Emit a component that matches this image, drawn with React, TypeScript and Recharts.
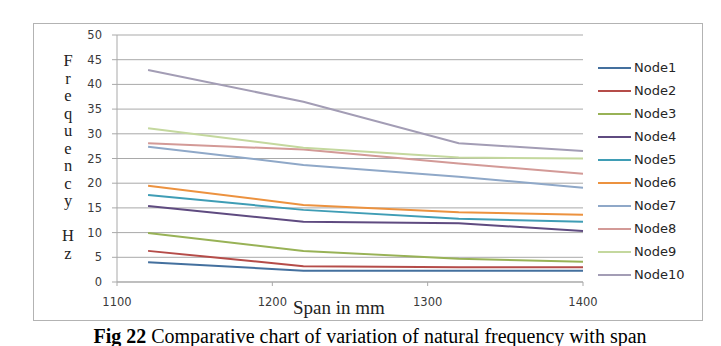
import { CartesianGrid, Line, LineChart, XAxis, YAxis } from "recharts";

// span values (mm) where each node frequency was computed
const spans = [1120, 1220, 1320, 1400];

// natural frequency (Hz) per node
const node1 = [4.0, 2.3, 2.3, 2.3];
const node2 = [6.3, 3.2, 3.0, 3.0];
const node3 = [9.9, 6.3, 4.7, 4.1];
const node4 = [15.4, 12.2, 11.9, 10.3];
const node5 = [17.6, 14.6, 12.8, 12.2];
const node6 = [19.5, 15.6, 14.1, 13.6];
const node7 = [27.4, 23.7, 21.3, 19.1];
const node8 = [28.1, 26.8, 24.0, 21.9];
const node9 = [31.1, 27.2, 25.2, 25.0];
const node10 = [42.9, 36.5, 28.1, 26.5];

const seriesNames = [
  "Node1",
  "Node2",
  "Node3",
  "Node4",
  "Node5",
  "Node6",
  "Node7",
  "Node8",
  "Node9",
  "Node10",
];
const seriesValues = [node1, node2, node3, node4, node5, node6, node7, node8, node9, node10];

const xTicks = [1100, 1200, 1300, 1400];
const yTicks = [0, 5, 10, 15, 20, 25, 30, 35, 40, 45, 50];

const COLORS = [
  "#44709e",
  "#b54c49",
  "#98b256",
  "#5f4b80",
  "#3f9db5",
  "#ec923f",
  "#8fa8c8",
  "#d39a97",
  "#c4d89e",
  "#a39db5",
];

const data = spans.map((span, i) => {
  const row: Record<string, number> = { span };
  seriesNames.forEach((name, k) => {
    row[name] = seriesValues[k][i];
  });
  return row;
});

const AXIS_GRAY = "#a9a9a9";
const SANS = "'DejaVu Sans', sans-serif";
const SERIF = "'Liberation Serif', 'Times New Roman', serif";

// vertical y-axis caption, one letter per line
const yLabelLines = ["F", "r", "e", "q", "u", "e", "n", "c", "y", "", "H", "z"];

// legend kept outside the chart so it doesn't shrink the plot area
function NodeLegend() {
  return (
    <div
      style={{
        position: "absolute",
        left: 598,
        top: 56,
        display: "flex",
        flexDirection: "column",
      }}
    >
      {seriesNames.map((name, k) => (
        <div key={name} style={{ display: "flex", alignItems: "center", height: 23 }}>
          <div style={{ width: 33, height: 2, background: COLORS[k], marginRight: 3 }} />
          <span style={{ fontFamily: SANS, fontSize: 13, color: "#262626" }}>{name}</span>
        </div>
      ))}
    </div>
  );
}

export default function App() {
  return (
    <div
      style={{
        position: "absolute",
        left: 0,
        top: 0,
        width: 721,
        height: 346,
        background: "#fff",
        overflow: "hidden",
      }}
    >
      <div
        style={{
          position: "absolute",
          left: 33,
          top: 23,
          width: 668,
          height: 296,
          border: "1px solid #b3b3b3",
        }}
      />
      <LineChart
        width={721}
        height={346}
        data={data}
        margin={{ top: 35, right: 138, bottom: 34, left: 0 }}
        style={{ position: "absolute", left: 0, top: 0 }}
      >
        <CartesianGrid vertical={false} stroke={AXIS_GRAY} />
        <XAxis
          dataKey="span"
          type="number"
          domain={[1100, 1400]}
          ticks={xTicks}
          height={30}
          stroke={AXIS_GRAY}
          tickSize={4}
          tickMargin={12}
          tick={{ fill: "#3a3a3a", fontSize: 11.5, fontFamily: SANS }}
        />
        <YAxis
          domain={[0, 50]}
          ticks={yTicks}
          width={117}
          stroke={AXIS_GRAY}
          tickSize={5}
          tickMargin={10}
          interval={0}
          tick={{ fill: "#3a3a3a", fontSize: 11.5, fontFamily: SANS }}
        />
        {seriesNames.map((name, k) => (
          <Line
            key={name}
            type="linear"
            dataKey={name}
            name={name}
            stroke={COLORS[k]}
            strokeWidth={2}
            dot={false}
            activeDot={false}
            isAnimationActive={false}
          />
        ))}
      </LineChart>
      <NodeLegend />
      <svg
        width={721}
        height={346}
        style={{ position: "absolute", left: 0, top: 0, pointerEvents: "none" }}
      >
        {yLabelLines.map((ch, i) => (
          <text
            key={i}
            x={68}
            y={66 + i * 17.5}
            textAnchor="middle"
            fontFamily={SERIF}
            fontSize={16.5}
            fill="#222"
          >
            {ch}
          </text>
        ))}
        <text x={293} y={314} fontFamily={SERIF} fontSize={19} fill="#222">
          Span in mm
        </text>
        <text
          x={370}
          y={343}
          textAnchor="middle"
          fontFamily={SERIF}
          fontSize={20}
          fill="#000"
        >
          <tspan fontWeight="bold">Fig 22</tspan>
          <tspan> Comparative chart of variation of natural frequency with span</tspan>
        </text>
      </svg>
    </div>
  );
}
